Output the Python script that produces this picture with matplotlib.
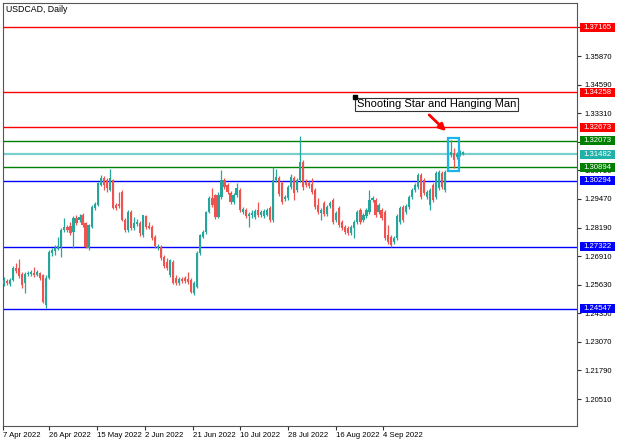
import numpy as np
import matplotlib
matplotlib.use("Agg")
import matplotlib.pyplot as plt
import matplotlib.transforms as mtransforms
from matplotlib.patches import Rectangle

plt.rcParams['font.family'] = ['Liberation Sans', 'DejaVu Sans']

# daily USDCAD candles
opens = [1.2566, 1.2580, 1.2566, 1.2584, 1.2638, 1.2638, 1.2611, 1.2571, 1.2611, 1.2611,
         1.2615, 1.2606, 1.2615, 1.2606, 1.2472, 1.2593, 1.2705, 1.2714, 1.2723, 1.2732,
         1.2808, 1.2821, 1.2826, 1.2799, 1.2861, 1.2852, 1.2875, 1.2839, 1.2727, 1.2821,
         1.2906, 1.2920, 1.3009, 1.3041, 1.3032, 1.2987, 1.3032, 1.2920, 1.2924, 1.2978,
         1.2852, 1.2808, 1.2888, 1.2817, 1.2835, 1.2839, 1.2785, 1.2870, 1.2826, 1.2821,
         1.2776, 1.2727, 1.2732, 1.2687, 1.2665, 1.2606, 1.2665, 1.2593, 1.2571, 1.2588,
         1.2593, 1.2588, 1.2584, 1.2526, 1.2553, 1.2705, 1.2776, 1.2799, 1.2888, 1.2951,
         1.2964, 1.2866, 1.2955, 1.3032, 1.3009, 1.2973, 1.2933, 1.2964, 1.2987, 1.2888,
         1.2897, 1.2870, 1.2875, 1.2866, 1.2897, 1.2875, 1.2870, 1.2875, 1.2906, 1.2852,
         1.3032, 1.3041, 1.3018, 1.2946, 1.2951, 1.3000, 1.3041, 1.2987, 1.3032, 1.3112,
         1.3023, 1.3018, 1.3014, 1.2987, 1.2920, 1.2884, 1.2928, 1.2879, 1.2915, 1.2942,
         1.2852, 1.2906, 1.2843, 1.2821, 1.2817, 1.2794, 1.2817, 1.2843, 1.2897, 1.2852,
         1.2870, 1.2888, 1.2942, 1.2942, 1.2888, 1.2897, 1.2888, 1.2785, 1.2776, 1.2754,
         1.2772, 1.2843, 1.2911, 1.2888, 1.2911, 1.2955, 1.2987, 1.3000, 1.3054, 1.3032,
         1.2955, 1.2920, 1.3009, 1.2955, 1.2996, 1.3063, 1.2987, 1.3081, 1.3144, 1.3153,
         1.3135, 1.3144, 1.3148]
highs = [1.2597, 1.2588, 1.2593, 1.2647, 1.2660, 1.2678, 1.2620, 1.2620, 1.2624, 1.2629,
         1.2642, 1.2629, 1.2620, 1.2611, 1.2606, 1.2718, 1.2727, 1.2741, 1.2776, 1.2817,
         1.2861, 1.2830, 1.2843, 1.2870, 1.2875, 1.2879, 1.2884, 1.2843, 1.2835, 1.2920,
         1.2933, 1.3023, 1.3054, 1.3050, 1.3041, 1.3081, 1.3036, 1.2928, 1.2978, 1.2987,
         1.2861, 1.2897, 1.2897, 1.2866, 1.2857, 1.2848, 1.2875, 1.2875, 1.2843, 1.2830,
         1.2785, 1.2745, 1.2741, 1.2696, 1.2682, 1.2678, 1.2673, 1.2606, 1.2597, 1.2597,
         1.2602, 1.2620, 1.2593, 1.2580, 1.2714, 1.2790, 1.2808, 1.2893, 1.2960, 1.2996,
         1.2969, 1.2978, 1.3077, 1.3041, 1.3018, 1.2982, 1.2973, 1.3018, 1.2996, 1.2911,
         1.2906, 1.2888, 1.2897, 1.2902, 1.2933, 1.2897, 1.2902, 1.2906, 1.2915, 1.3090,
         1.3081, 1.3050, 1.3027, 1.2964, 1.3009, 1.3059, 1.3050, 1.3041, 1.3229, 1.3121,
         1.3036, 1.3027, 1.3041, 1.2996, 1.2951, 1.2906, 1.2937, 1.2920, 1.2937, 1.2951,
         1.2893, 1.2915, 1.2852, 1.2830, 1.2826, 1.2830, 1.2852, 1.2897, 1.2906, 1.2884,
         1.2906, 1.2987, 1.2960, 1.2951, 1.2928, 1.2906, 1.2897, 1.2830, 1.2785, 1.2781,
         1.2879, 1.2915, 1.2920, 1.2924, 1.2964, 1.2996, 1.3018, 1.3063, 1.3063, 1.3041,
         1.2987, 1.2996, 1.3018, 1.3072, 1.3077, 1.3072, 1.3077, 1.3166, 1.3211, 1.3175,
         1.3157, 1.3166, 1.3162]
lows = [1.2557, 1.2562, 1.2557, 1.2580, 1.2615, 1.2593, 1.2548, 1.2526, 1.2602, 1.2602,
        1.2597, 1.2602, 1.2584, 1.2481, 1.2459, 1.2588, 1.2691, 1.2696, 1.2718, 1.2687,
        1.2799, 1.2799, 1.2785, 1.2727, 1.2830, 1.2843, 1.2821, 1.2727, 1.2718, 1.2817,
        1.2897, 1.2915, 1.3005, 1.2987, 1.2978, 1.2982, 1.2902, 1.2897, 1.2906, 1.2848,
        1.2799, 1.2799, 1.2808, 1.2808, 1.2826, 1.2781, 1.2776, 1.2812, 1.2812, 1.2763,
        1.2727, 1.2718, 1.2673, 1.2638, 1.2629, 1.2597, 1.2566, 1.2562, 1.2562, 1.2571,
        1.2571, 1.2566, 1.2526, 1.2517, 1.2548, 1.2696, 1.2772, 1.2790, 1.2884, 1.2911,
        1.2857, 1.2861, 1.2946, 1.2991, 1.2969, 1.2924, 1.2924, 1.2955, 1.2888, 1.2879,
        1.2861, 1.2821, 1.2861, 1.2857, 1.2866, 1.2866, 1.2861, 1.2870, 1.2843, 1.2843,
        1.3023, 1.2960, 1.2924, 1.2937, 1.2942, 1.2991, 1.2942, 1.2978, 1.3023, 1.2987,
        1.3000, 1.2996, 1.2969, 1.2902, 1.2879, 1.2852, 1.2870, 1.2870, 1.2906, 1.2835,
        1.2843, 1.2821, 1.2808, 1.2790, 1.2785, 1.2785, 1.2772, 1.2835, 1.2835, 1.2843,
        1.2861, 1.2879, 1.2933, 1.2866, 1.2879, 1.2852, 1.2763, 1.2745, 1.2732, 1.2745,
        1.2763, 1.2835, 1.2843, 1.2879, 1.2902, 1.2946, 1.2978, 1.2991, 1.2946, 1.2964,
        1.2946, 1.2897, 1.2933, 1.2946, 1.2987, 1.2991, 1.2978, 1.3077, 1.3135, 1.3085,
        1.3126, 1.3139, 1.3144]
closes = [1.2584, 1.2571, 1.2584, 1.2638, 1.2624, 1.2602, 1.2562, 1.2611, 1.2615, 1.2620,
          1.2606, 1.2620, 1.2593, 1.2486, 1.2593, 1.2709, 1.2718, 1.2727, 1.2736, 1.2808,
          1.2821, 1.2808, 1.2794, 1.2861, 1.2839, 1.2866, 1.2830, 1.2732, 1.2830, 1.2911,
          1.2924, 1.3018, 1.3041, 1.3009, 1.2996, 1.3041, 1.2906, 1.2906, 1.2915, 1.2852,
          1.2808, 1.2888, 1.2817, 1.2839, 1.2843, 1.2794, 1.2875, 1.2821, 1.2817, 1.2772,
          1.2736, 1.2736, 1.2682, 1.2647, 1.2638, 1.2673, 1.2571, 1.2571, 1.2588, 1.2580,
          1.2580, 1.2575, 1.2530, 1.2571, 1.2705, 1.2785, 1.2799, 1.2888, 1.2951, 1.2920,
          1.2866, 1.2964, 1.3032, 1.3000, 1.2978, 1.2933, 1.2964, 1.2996, 1.2897, 1.2902,
          1.2870, 1.2879, 1.2884, 1.2893, 1.2875, 1.2888, 1.2893, 1.2897, 1.2852, 1.3032,
          1.3045, 1.2969, 1.2933, 1.2955, 1.3000, 1.3045, 1.2973, 1.3032, 1.3112, 1.3000,
          1.3009, 1.3005, 1.2978, 1.2911, 1.2888, 1.2897, 1.2879, 1.2911, 1.2928, 1.2843,
          1.2884, 1.2830, 1.2817, 1.2799, 1.2794, 1.2821, 1.2843, 1.2888, 1.2843, 1.2875,
          1.2897, 1.2942, 1.2951, 1.2875, 1.2920, 1.2861, 1.2772, 1.2754, 1.2741, 1.2772,
          1.2870, 1.2906, 1.2852, 1.2915, 1.2955, 1.2987, 1.3009, 1.3054, 1.2955, 1.2973,
          1.2978, 1.2987, 1.2942, 1.3063, 1.3068, 1.3000, 1.3068, 1.3153, 1.3157, 1.3121,
          1.3148, 1.3157, 1.3157]

# horizontal levels and their price tags
levels = [1.37165, 1.34258, 1.32673, 1.32073, 1.31482, 1.30894, 1.30294, 1.27322, 1.24547]
level_colors = ['#ff0000', '#ff0000', '#ff0000', '#008000', '#20b2aa',
                '#008000', '#0000ff', '#0000ff', '#0000ff']

price_ticks = [1.20510, 1.21790, 1.23070, 1.24350, 1.25630, 1.26910, 1.28190,
               1.29470, 1.30750, 1.32030, 1.33310, 1.34590, 1.35870, 1.37150]
date_labels = ['7 Apr 2022', '26 Apr 2022', '15 May 2022', '2 Jun 2022', '21 Jun 2022',
               '10 Jul 2022', '28 Jul 2022', '16 Aug 2022', '4 Sep 2022']
date_bars = [-0.3, 15, 30.9, 46.7, 62.5, 78.1, 94, 109.8, 125.6]

pattern_bars = [147, 148, 149, 150]
note = 'Shooting Star and Hanging Man'

GREEN = '#26a69a'
RED = '#ef5350'

o = np.array(opens)
h = np.array(highs)
l = np.array(lows)
c = np.array(closes)
x = np.arange(len(o))

fig = plt.figure(figsize=(6.25, 4.46), dpi=100)
ax = fig.add_axes([3 / 625, 1 - 426 / 446, 574 / 625, 423 / 446])

ax.set_xlim(-0.33, 189.7)
ax.set_ylim(1.19302, 1.38244)

# levels first, candles on top
for lv, col in zip(levels, level_colors):
    if col == '#20b2aa':
        ax.axhline(lv, color=col, lw=1.6, alpha=0.6, zorder=1)
    else:
        ax.axhline(lv, color=col, lw=1.0, zorder=1)

cols = np.where(c >= o, GREEN, RED)
ax.vlines(x, np.minimum(l, np.minimum(o, c)), np.maximum(h, np.maximum(o, c)),
          colors=cols, lw=0.9, zorder=3)
body = np.abs(c - o)
body = np.where(body < 0.00018, 0.00018, body)
ax.bar(x, body, bottom=np.minimum(o, c), width=0.72, color=cols, lw=0, zorder=4)

# price tags on the right
trans = mtransforms.blended_transform_factory(ax.transAxes, ax.transData)
tag_h = 0.00403
for lv, col in zip(levels, level_colors):
    ax.add_patch(Rectangle((1.0052, lv - tag_h / 2), 0.061, tag_h, transform=trans,
                           facecolor=col, edgecolor='none', clip_on=False, zorder=10))
    ax.text(1.0357, lv, f'{lv:.5f}', transform=trans, color='white', fontsize=5.6,
            ha='center', va='center', clip_on=False, zorder=11)

# pattern box + note + arrow
lo = l[pattern_bars].min()
hi = h[pattern_bars].max()
ax.add_patch(Rectangle((pattern_bars[0] - 0.1, lo - 0.0004), len(pattern_bars) - 0.1,
                       hi - lo + 0.0012, fill=False, edgecolor='#1ab4e8', lw=1.6, zorder=6))
ax.text(116.9, 1.3370, note, fontsize=8, ha='left', va='center', zorder=12,
        bbox=dict(boxstyle='square,pad=0.15', fc='white', ec='#333333', lw=0.8))
ax.plot(116.2, 1.3404, marker='s', ms=2.5, color='black', zorder=13)
ax.annotate('', xy=(147.0, 1.3242), xytext=(140.1, 1.3332), zorder=12,
            arrowprops=dict(arrowstyle='-|>', color='red', lw=2.0, mutation_scale=10))

ax.text(0.0052, 0.9953, 'USDCAD, Daily', transform=ax.transAxes, fontsize=6.3,
        ha='left', va='top')

# tick labels that sit fully under a price tag are not shown
hidden = [1.32030]
ax.yaxis.tick_right()
ax.set_yticks(price_ticks)
ax.set_yticklabels(['' if t in hidden else f'{t:.5f}' for t in price_ticks])
ax.tick_params(axis='y', direction='out', length=3, width=0.8, pad=2.5,
               labelsize=5.5, color='#333333')
ax.set_xticks(date_bars)
ax.set_xticklabels(date_labels, ha='left')
ax.tick_params(axis='x', direction='out', length=3, width=0.8, pad=1.5,
               labelsize=5.6, color='#333333')

for sp in ax.spines.values():
    sp.set_color('#555555')
    sp.set_linewidth(0.8)

fig.savefig('out.png', dpi=100)
